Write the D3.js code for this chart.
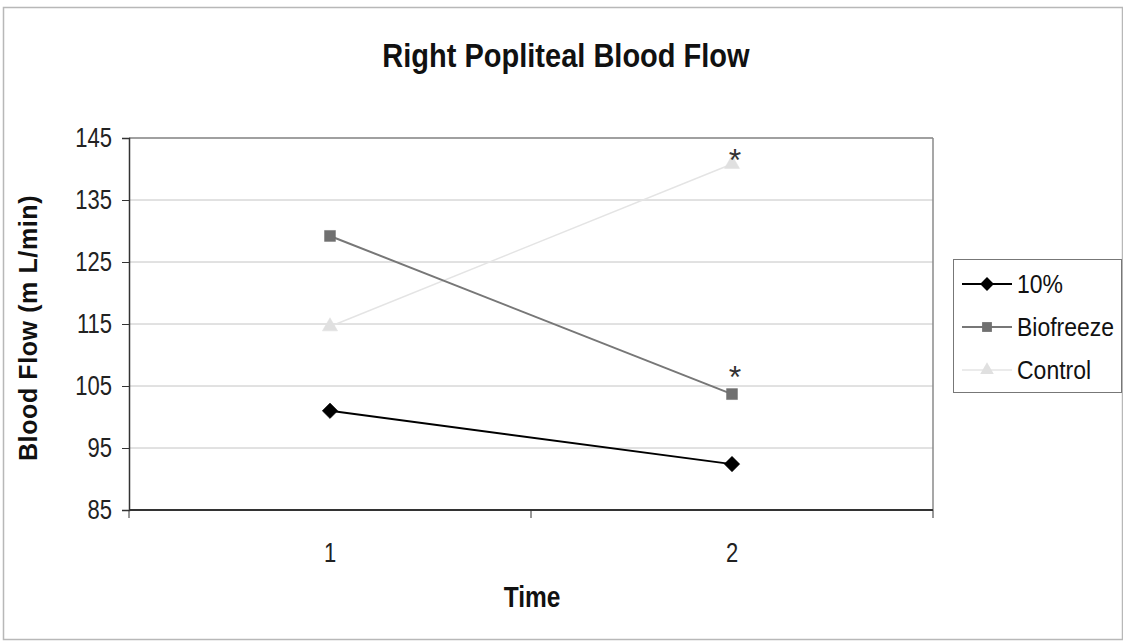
<!DOCTYPE html>
<html><head><meta charset="utf-8">
<script src="https://cdn.jsdelivr.net/npm/d3@7"></script>
<style>body{margin:0;background:#fff}svg{display:block}text{font-family:"Liberation Sans",Arial,sans-serif}</style>
</head><body>
<script>
const categories = ["1","2"];
const yTicks = [85,95,105,115,125,135,145];
const seriesNames = ["10%","Biofreeze","Control"];
const tenPct = [101.0, 92.4];
const biofreeze = [129.2, 103.7];
const control = [114.6, 140.8];
const sigMarks = [{series:"Biofreeze", cat:"2"},{series:"Control", cat:"2"}];

const W=1123,H=644;
const svg=d3.select("body").append("svg").attr("width",W).attr("height",H);
svg.append("rect").attr("x",3.5).attr("y",7.5).attr("width",W-4).attr("height",H-12)
  .attr("fill","#fff").attr("stroke","#b8b8b8").attr("stroke-width",1.5);

const L=129,R=933,T=138,B=510;
const x=d3.scaleBand().domain(categories).range([L,R]);
const y=d3.scaleLinear().domain([85,145]).range([B,T]);

function tallText(g, tx, ty, size, k, str, opts={}){
  const t=g.append("text").attr("transform",`translate(${tx},${ty}) scale(1,${k})`)
    .attr("font-size",size).attr("fill",opts.fill||"#111")
    .attr("text-anchor",opts.anchor||"start").text(str);
  if(opts.bold) t.attr("font-weight","bold");
  return t;
}

// gridlines
svg.append("g").selectAll("line").data(yTicks.slice(1)).join("line")
  .attr("x1",L).attr("x2",R).attr("y1",d=>y(d)).attr("y2",d=>y(d))
  .attr("stroke","#c4c4c4").attr("stroke-width",1);
svg.append("line").attr("x1",L).attr("x2",R).attr("y1",T).attr("y2",T).attr("stroke","#8a8a8a").attr("stroke-width",1.5);
svg.append("line").attr("x1",R).attr("x2",R).attr("y1",T).attr("y2",B).attr("stroke","#8a8a8a").attr("stroke-width",1.5);

// y axis
const ya=svg.append("g").attr("transform",`translate(${L},0)`)
  .call(d3.axisLeft(y).tickValues(yTicks).tickSize(7).tickPadding(12));
ya.select(".domain").attr("stroke","#333").attr("stroke-width",1.5);
ya.selectAll(".tick line").attr("stroke","#333");
ya.selectAll(".tick text").remove();
ya.selectAll(".tick").each(function(d){
  tallText(d3.select(this), -17, 8, 22, 1.25, d, {anchor:"end", fill:"#222"});
});

// x axis
const xa=svg.append("g").attr("transform",`translate(0,${B})`);
xa.append("line").attr("x1",L).attr("x2",R).attr("stroke","#333").attr("stroke-width",2);
const xb=[L, ...categories.slice(1).map(c=>x(c)), R];
xa.selectAll(".xt").data(xb).join("line").attr("class","xt")
  .attr("x1",d=>d).attr("x2",d=>d).attr("y1",0).attr("y2",8).attr("stroke","#333");
categories.forEach(c=>tallText(xa, x(c)+x.bandwidth()/2, 52, 22, 1.25, c, {anchor:"middle", fill:"#222"}));

// titles
tallText(svg, 566, 67, 29, 1.15, "Right Popliteal Blood Flow", {anchor:"middle", bold:true});
tallText(svg, 532, 607, 24.5, 1.2, "Time", {anchor:"middle", bold:true});
svg.append("text").attr("transform",`translate(37,${(T+B)/2+4}) rotate(-90)`).attr("text-anchor","middle")
  .attr("font-size",25).attr("font-weight","bold").attr("letter-spacing",0.6).attr("fill","#111").text("Blood Flow (m L/min)");

const cx=c=>x(c)+x.bandwidth()/2;
const series=[
  {name:"10%",vals:tenPct,color:"#000",mcolor:"#000",sym:d3.symbolSquare,size:120,rot:45,w:2},
  {name:"Biofreeze",vals:biofreeze,color:"#777",mcolor:"#707070",sym:d3.symbolSquare,size:120,rot:0,w:2},
  {name:"Control",vals:control,color:"#e4e4e4",mcolor:"#e0e0e0",sym:d3.symbolTriangle,size:100,rot:0,w:1.5}
];
const line=d3.line().x((d,i)=>cx(categories[i])).y(d=>y(d));
series.slice().reverse().forEach(s=>{
  svg.append("path").attr("d",line(s.vals)).attr("fill","none").attr("stroke",s.color).attr("stroke-width",s.w);
  svg.append("g").selectAll("path").data(s.vals).join("path")
    .attr("transform",(d,i)=>`translate(${cx(categories[i])},${y(d)}) rotate(${s.rot})`)
    .attr("d",d3.symbol(s.sym,s.size)).attr("fill",s.mcolor).attr("stroke",s.mcolor).attr("stroke-width",0.5);
});

// asterisks (centre ~20px above the point, kept below the plot's top edge)
sigMarks.forEach(m=>{
  const s=series.find(q=>q.name===m.series);
  const v=s.vals[categories.indexOf(m.cat)];
  const cy=Math.max(y(v)-20, T+19);
  svg.append("text").attr("x",cx(m.cat)+3).attr("y",cy+14).attr("text-anchor","middle")
    .attr("font-size",32).attr("fill","#333").text("*");
});

// legend
const lg=svg.append("g");
lg.append("rect").attr("x",953.5).attr("y",259.5).attr("width",168).attr("height",133)
  .attr("fill","#fff").attr("stroke","#777").attr("stroke-width",1);
series.forEach((s,i)=>{
  const yy=284+i*43;
  lg.append("line").attr("x1",962).attr("x2",1012).attr("y1",yy).attr("y2",yy).attr("stroke",s.color).attr("stroke-width",s.w);
  lg.append("path").attr("transform",`translate(987,${yy}) rotate(${s.rot})`).attr("d",d3.symbol(s.sym,s.size*0.8)).attr("fill",s.mcolor);
  tallText(lg, 1017, yy+9, 23, 1.1, s.name, {});
});
</script>
</body></html>
